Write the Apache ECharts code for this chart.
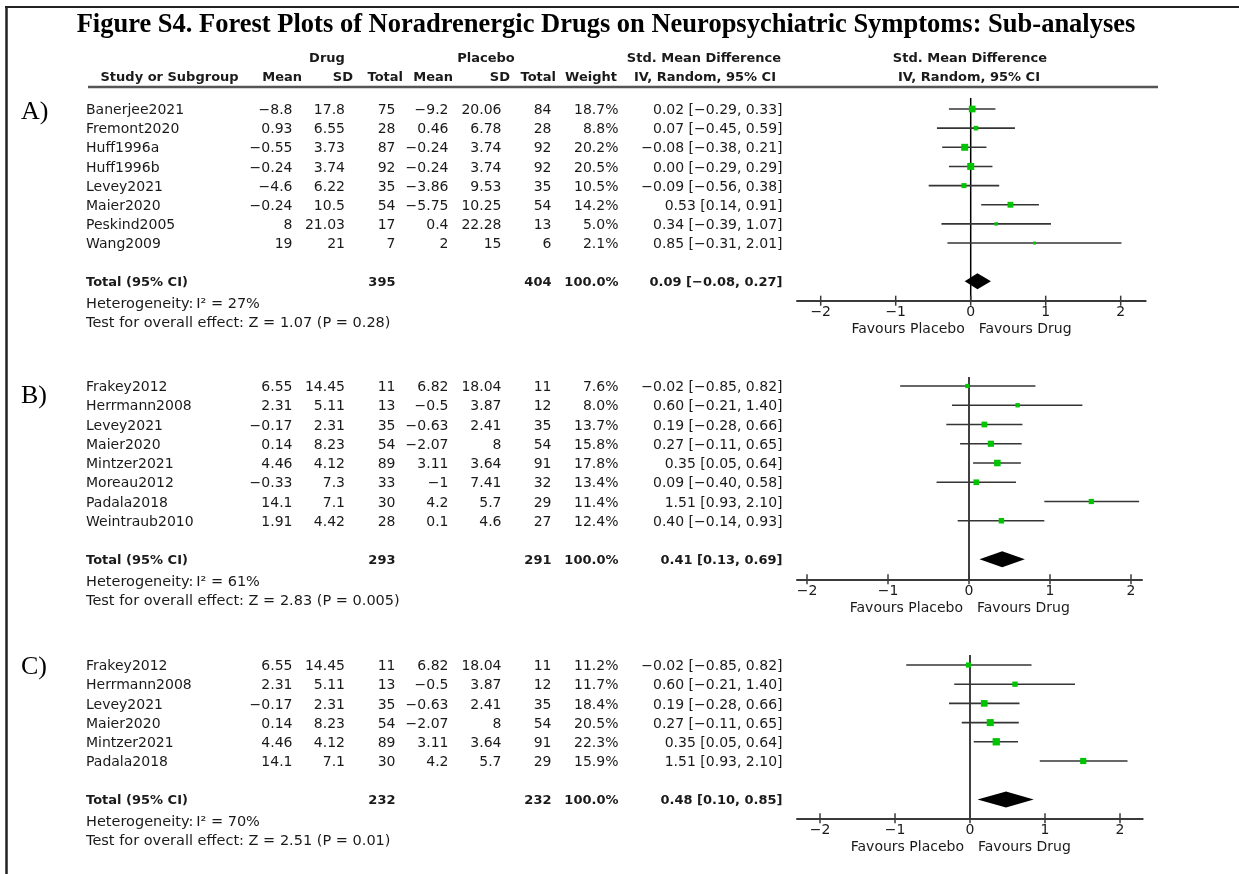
<!DOCTYPE html>
<html>
<head>
<meta charset="utf-8">
<script src="https://cdn.jsdelivr.net/npm/echarts@6/dist/echarts.min.js"></script>
<style>
  html, body { margin: 0; padding: 0; background: #fff; }
  #chart { width: 1239px; height: 874px; }
</style>
</head>
<body>
<div id="chart"></div>
<script>
// ---------- Data: (A) all noradrenergic drugs ----------
const namesA    = ['Banerjee2021', 'Fremont2020', 'Huff1996a', 'Huff1996b', 'Levey2021', 'Maier2020', 'Peskind2005', 'Wang2009'];
const drugMeanA = [-8.8, 0.93, -0.55, -0.24, -4.6, -0.24, 8, 19];
const drugSdA   = [17.8, 6.55, 3.73, 3.74, 6.22, 10.5, 21.03, 21];
const drugNA    = [75, 28, 87, 92, 35, 54, 17, 7];
const plcMeanA  = [-9.2, 0.46, -0.24, -0.24, -3.86, -5.75, 0.4, 2];
const plcSdA    = [20.06, 6.78, 3.74, 3.74, 9.53, 10.25, 22.28, 15];
const plcNA     = [84, 28, 92, 92, 35, 54, 13, 6];
const weightA   = [18.7, 8.8, 20.2, 20.5, 10.5, 14.2, 5.0, 2.1];
const smdA      = [0.02, 0.07, -0.08, 0.00, -0.09, 0.53, 0.34, 0.85];
const loA       = [-0.29, -0.45, -0.38, -0.29, -0.56, 0.14, -0.39, -0.31];
const hiA       = [0.33, 0.59, 0.21, 0.29, 0.38, 0.91, 1.07, 2.01];
const pooledA   = [0.09, -0.08, 0.27];          // estimate, lower, upper
const statsA    = ['27%', '1.07', '0.28'];      // I², Z, P

// ---------- Data: (B) ----------
const namesB    = ['Frakey2012', 'Herrmann2008', 'Levey2021', 'Maier2020', 'Mintzer2021', 'Moreau2012', 'Padala2018', 'Weintraub2010'];
const drugMeanB = [6.55, 2.31, -0.17, 0.14, 4.46, -0.33, 14.1, 1.91];
const drugSdB   = [14.45, 5.11, 2.31, 8.23, 4.12, 7.3, 7.1, 4.42];
const drugNB    = [11, 13, 35, 54, 89, 33, 30, 28];
const plcMeanB  = [6.82, -0.5, -0.63, -2.07, 3.11, -1, 4.2, 0.1];
const plcSdB    = [18.04, 3.87, 2.41, 8, 3.64, 7.41, 5.7, 4.6];
const plcNB     = [11, 12, 35, 54, 91, 32, 29, 27];
const weightB   = [7.6, 8.0, 13.7, 15.8, 17.8, 13.4, 11.4, 12.4];
const smdB      = [-0.02, 0.60, 0.19, 0.27, 0.35, 0.09, 1.51, 0.40];
const loB       = [-0.85, -0.21, -0.28, -0.11, 0.05, -0.40, 0.93, -0.14];
const hiB       = [0.82, 1.40, 0.66, 0.65, 0.64, 0.58, 2.10, 0.93];
const pooledB   = [0.41, 0.13, 0.69];
const statsB    = ['61%', '2.83', '0.005'];

// ---------- Data: (C) ----------
const namesC    = ['Frakey2012', 'Herrmann2008', 'Levey2021', 'Maier2020', 'Mintzer2021', 'Padala2018'];
const drugMeanC = [6.55, 2.31, -0.17, 0.14, 4.46, 14.1];
const drugSdC   = [14.45, 5.11, 2.31, 8.23, 4.12, 7.1];
const drugNC    = [11, 13, 35, 54, 89, 30];
const plcMeanC  = [6.82, -0.5, -0.63, -2.07, 3.11, 4.2];
const plcSdC    = [18.04, 3.87, 2.41, 8, 3.64, 5.7];
const plcNC     = [11, 12, 35, 54, 91, 29];
const weightC   = [11.2, 11.7, 18.4, 20.5, 22.3, 15.9];
const smdC      = [-0.02, 0.60, 0.19, 0.27, 0.35, 1.51];
const loC       = [-0.85, -0.21, -0.28, -0.11, 0.05, 0.93];
const hiC       = [0.82, 1.40, 0.66, 0.65, 0.64, 2.10];
const pooledC   = [0.48, 0.10, 0.85];
const statsC    = ['70%', '2.51', '0.01'];

// Axis tick values of the effect-size scale
const effectTicks = [-2, -1, 0, 1, 2];

// ---------- Styling and layout ----------
const SANS = '"DejaVu Sans", Verdana, sans-serif';
const SERIF = '"Liberation Serif", "Times New Roman", serif';
const INK = '#1a1a1a';
const AXIS = '#3a3a3a';
const GREEN = '#00c400';
const MINUS = '\u2212';

// right edges (or left edge for names) of the table columns
const COL = { name: 86, dMean: 292.5, dSd: 345, dN: 395.5, pMean: 448.5, pSd: 501.5, pN: 551.5, w: 618.5, ci: 782.5 };
const PLOT_LEFT = 797;

const panels = [
  { label: 'A)', labelY: 112, names: namesA, dm: drugMeanA, ds: drugSdA, dn: drugNA, pm: plcMeanA, ps: plcSdA, pn: plcNA,
    w: weightA, smd: smdA, lo: loA, hi: hiA, pooled: pooledA, stats: statsA,
    box: { top: 98, firstRow: 109, pitch: 19.15, bottom: 300.7, zeroX: 970.7, unit: 75, right: 1145.7 } },
  { label: 'B)', labelY: 396, names: namesB, dm: drugMeanB, ds: drugSdB, dn: drugNB, pm: plcMeanB, ps: plcSdB, pn: plcNB,
    w: weightB, smd: smdB, lo: loB, hi: hiB, pooled: pooledB, stats: statsB,
    box: { top: 377, firstRow: 386, pitch: 19.25, bottom: 579.3, zeroX: 969, unit: 81, right: 1142 } },
  { label: 'C)', labelY: 667, names: namesC, dm: drugMeanC, ds: drugSdC, dn: drugNC, pm: plcMeanC, ps: plcSdC, pn: plcNC,
    w: weightC, smd: smdC, lo: loC, hi: hiC, pooled: pooledC, stats: statsC,
    box: { top: 655, firstRow: 665, pitch: 19.2, bottom: 818.3, zeroX: 970, unit: 75, right: 1142.7 } }
];

const fmt = v => String(v).replace('-', MINUS);
const fmt2 = v => v.toFixed(2).replace('-', MINUS);
const ciText = (e, l, h) => fmt2(e) + ' [' + fmt2(l) + ', ' + fmt2(h) + ']';
const sum = arr => arr.reduce((a, b) => a + b, 0);

function txt(x, y, text, align, bold, size) {
  return {
    type: 'text', x: x, y: y,
    style: {
      text: text, align: align, verticalAlign: 'middle',
      fontFamily: SANS, fontSize: size || (bold ? 13 : 14), fontWeight: bold ? 'bold' : 'normal', fill: INK
    }
  };
}

const grids = [], xAxes = [], yAxes = [], series = [];

panels.forEach((p, i) => {
  const b = p.box;
  const n = p.names.length;
  const yMin = -(b.firstRow - b.top) / b.pitch;
  const yMax = (b.bottom - b.firstRow) / b.pitch;
  const xMin = (PLOT_LEFT - b.zeroX) / b.unit;
  const xMax = (b.right - b.zeroX) / b.unit;
  const totalRow = n + 1;

  grids.push({ left: PLOT_LEFT, top: b.top, width: b.right - PLOT_LEFT, height: b.bottom - b.top });

  // effect axis: line and labels (tick marks crossing the line are drawn below)
  xAxes.push({
    type: 'value', gridIndex: i, min: xMin, max: xMax, position: 'bottom',
    axisLine: { show: true, onZero: false, lineStyle: { color: AXIS, width: 2 } },
    axisTick: { show: false },
    axisLabel: { show: true, customValues: effectTicks, formatter: v => fmt(v), margin: 5,
                 fontFamily: SANS, fontSize: 14, color: INK },
    splitLine: { show: false }
  });
  yAxes.push({ type: 'value', gridIndex: i, inverse: true, min: yMin, max: yMax, show: false });

  // tick marks straddling the axis line
  series.push({
    type: 'custom', xAxisIndex: i, yAxisIndex: i, z: 5, silent: true,
    encode: { x: 0, y: 1 },
    data: effectTicks.map(v => [v, yMax]),
    renderItem: (params, api) => {
      const c = api.coord([api.value(0), api.value(1)]);
      return { type: 'line', shape: { x1: c[0], y1: c[1] - 5, x2: c[0], y2: c[1] + 5 },
               style: { stroke: AXIS, lineWidth: 1.5 } };
    }
  });

  // line of no effect
  series.push({
    type: 'line', xAxisIndex: i, yAxisIndex: i, z: 1, silent: true, showSymbol: false,
    lineStyle: { color: '#000', width: 1.5 },
    data: [[0, yMin], [0, yMax]]
  });

  // study confidence intervals and weighted squares
  series.push({
    type: 'custom', xAxisIndex: i, yAxisIndex: i, z: 2, silent: true,
    encode: { x: [0, 1, 2], y: 3 },
    data: p.names.map((_, k) => [p.lo[k], p.hi[k], p.smd[k], k, p.w[k]]),
    renderItem: (params, api) => {
      const row = api.value(3);
      const a = api.coord([api.value(0), row]);
      const c = api.coord([api.value(1), row]);
      const m = api.coord([api.value(2), row]);
      const s = Math.max(3, 1.55 * Math.sqrt(api.value(4)));
      return {
        type: 'group', children: [
          { type: 'line', shape: { x1: a[0], y1: a[1], x2: c[0], y2: c[1] }, style: { stroke: '#353535', lineWidth: 1.6 } },
          { type: 'rect', shape: { x: m[0] - s / 2, y: m[1] - s / 2, width: s, height: s }, style: { fill: GREEN } }
        ]
      };
    }
  });

  // pooled estimate diamond
  series.push({
    type: 'custom', xAxisIndex: i, yAxisIndex: i, z: 3, silent: true,
    encode: { x: [0, 1, 2], y: 3 },
    data: [[p.pooled[1], p.pooled[2], p.pooled[0], totalRow]],
    renderItem: (params, api) => {
      const row = api.value(3);
      const l = api.coord([api.value(0), row]);
      const r = api.coord([api.value(1), row]);
      const m = api.coord([api.value(2), row]);
      const h = 8;
      return {
        type: 'polygon',
        shape: { points: [[l[0], l[1]], [m[0], m[1] - h], [r[0], r[1]], [m[0], m[1] + h]] },
        style: { fill: '#000' }
      };
    }
  });

  // table rows (text), positioned on the same row scale
  const rows = [];
  p.names.forEach((nm, k) => rows.push({ kind: 'study', y: k, k: k }));
  rows.push({ kind: 'total', y: totalRow });
  rows.push({ kind: 'het', y: totalRow + 1.12 });
  rows.push({ kind: 'test', y: totalRow + 2.12 });
  rows.push({ kind: 'favours', y: yMax + 29 / b.pitch });

  series.push({
    type: 'custom', xAxisIndex: i, yAxisIndex: i, z: 4, silent: true,
    encode: { x: 0, y: 1 },
    data: rows.map(r => [0, r.y]),
    renderItem: (params, api) => {
      const r = rows[params.dataIndex];
      const pos = api.coord([0, r.y]);
      const y = pos[1] + (r.kind === 'favours' ? 0 : 1.5);
      let ch = [];
      if (r.kind === 'study') {
        const k = r.k;
        ch = [
          txt(COL.name, y, p.names[k], 'left'),
          txt(COL.dMean, y, fmt(p.dm[k]), 'right'),
          txt(COL.dSd, y, fmt(p.ds[k]), 'right'),
          txt(COL.dN, y, fmt(p.dn[k]), 'right'),
          txt(COL.pMean, y, fmt(p.pm[k]), 'right'),
          txt(COL.pSd, y, fmt(p.ps[k]), 'right'),
          txt(COL.pN, y, fmt(p.pn[k]), 'right'),
          txt(COL.w, y, p.w[k].toFixed(1) + '%', 'right'),
          txt(COL.ci, y, ciText(p.smd[k], p.lo[k], p.hi[k]), 'right')
        ];
      } else if (r.kind === 'total') {
        ch = [
          txt(COL.name, y, 'Total (95% CI)', 'left', true),
          txt(COL.dN, y, String(sum(p.dn)), 'right', true),
          txt(COL.pN, y, String(sum(p.pn)), 'right', true),
          txt(COL.w, y, '100.0%', 'right', true),
          txt(COL.ci, y, ciText(p.pooled[0], p.pooled[1], p.pooled[2]), 'right', true)
        ];
      } else if (r.kind === 'het') {
        ch = [txt(COL.name, y, 'Heterogeneity:\u2009I\u00B2 = ' + p.stats[0], 'left', false, 14.5)];
      } else if (r.kind === 'test') {
        ch = [txt(COL.name, y, 'Test for overall effect: Z = ' + p.stats[1] + ' (P = ' + p.stats[2] + ')', 'left', false, 14.5)];
      } else {
        ch = [
          txt(pos[0] - 6, y, 'Favours Placebo', 'right'),
          txt(pos[0] + 8, y, 'Favours Drug', 'left')
        ];
      }
      return { type: 'group', children: ch };
    }
  });
});

// ---------- Static page furniture: frame, title, column headers, panel letters ----------
const hdr = (x, y, text, align) => ({
  type: 'text', x: x, y: y,
  style: { text: text, align: align, verticalAlign: 'middle', fontFamily: SANS, fontSize: 13, fontWeight: 'bold', fill: INK }
});

const graphic = [
  { type: 'line', shape: { x1: 5, y1: 7, x2: 1239, y2: 7 }, style: { stroke: '#222', lineWidth: 2 } },
  { type: 'line', shape: { x1: 6.5, y1: 6, x2: 6.5, y2: 874 }, style: { stroke: '#222', lineWidth: 2.5 } },
  { type: 'text', x: 606, y: 25,
    style: { text: 'Figure S4. Forest Plots of Noradrenergic Drugs on Neuropsychiatric Symptoms: Sub-analyses',
             align: 'center', verticalAlign: 'middle', fontFamily: SERIF, fontSize: 26.5, fontWeight: 'bold', fill: '#000' } },
  hdr(327, 58.5, 'Drug', 'center'),
  hdr(486, 58.5, 'Placebo', 'center'),
  hdr(704, 58.5, 'Std. Mean Difference', 'center'),
  hdr(970, 58.5, 'Std. Mean Difference', 'center'),
  hdr(100.5, 77.5, 'Study or Subgroup', 'left'),
  hdr(302, 77.5, 'Mean', 'right'),
  hdr(353, 77.5, 'SD', 'right'),
  hdr(403, 77.5, 'Total', 'right'),
  hdr(453, 77.5, 'Mean', 'right'),
  hdr(510, 77.5, 'SD', 'right'),
  hdr(556, 77.5, 'Total', 'right'),
  hdr(617, 77.5, 'Weight', 'right'),
  hdr(705, 77.5, 'IV, Random, 95% CI', 'center'),
  hdr(969, 77.5, 'IV, Random, 95% CI', 'center'),
  { type: 'line', shape: { x1: 88, y1: 87, x2: 1158, y2: 87 }, style: { stroke: '#555', lineWidth: 2.5 } }
];
panels.forEach(p => {
  graphic.push({ type: 'text', x: 21, y: p.labelY,
    style: { text: p.label, align: 'left', verticalAlign: 'middle', fontFamily: SERIF, fontSize: 26, fill: '#000' } });
});

const chart = echarts.init(document.getElementById('chart'), null, { renderer: 'canvas' });
chart.setOption({
  backgroundColor: '#fff',
  animation: false,
  grid: grids,
  xAxis: xAxes,
  yAxis: yAxes,
  series: series,
  graphic: graphic
});
</script>
</body>
</html>
